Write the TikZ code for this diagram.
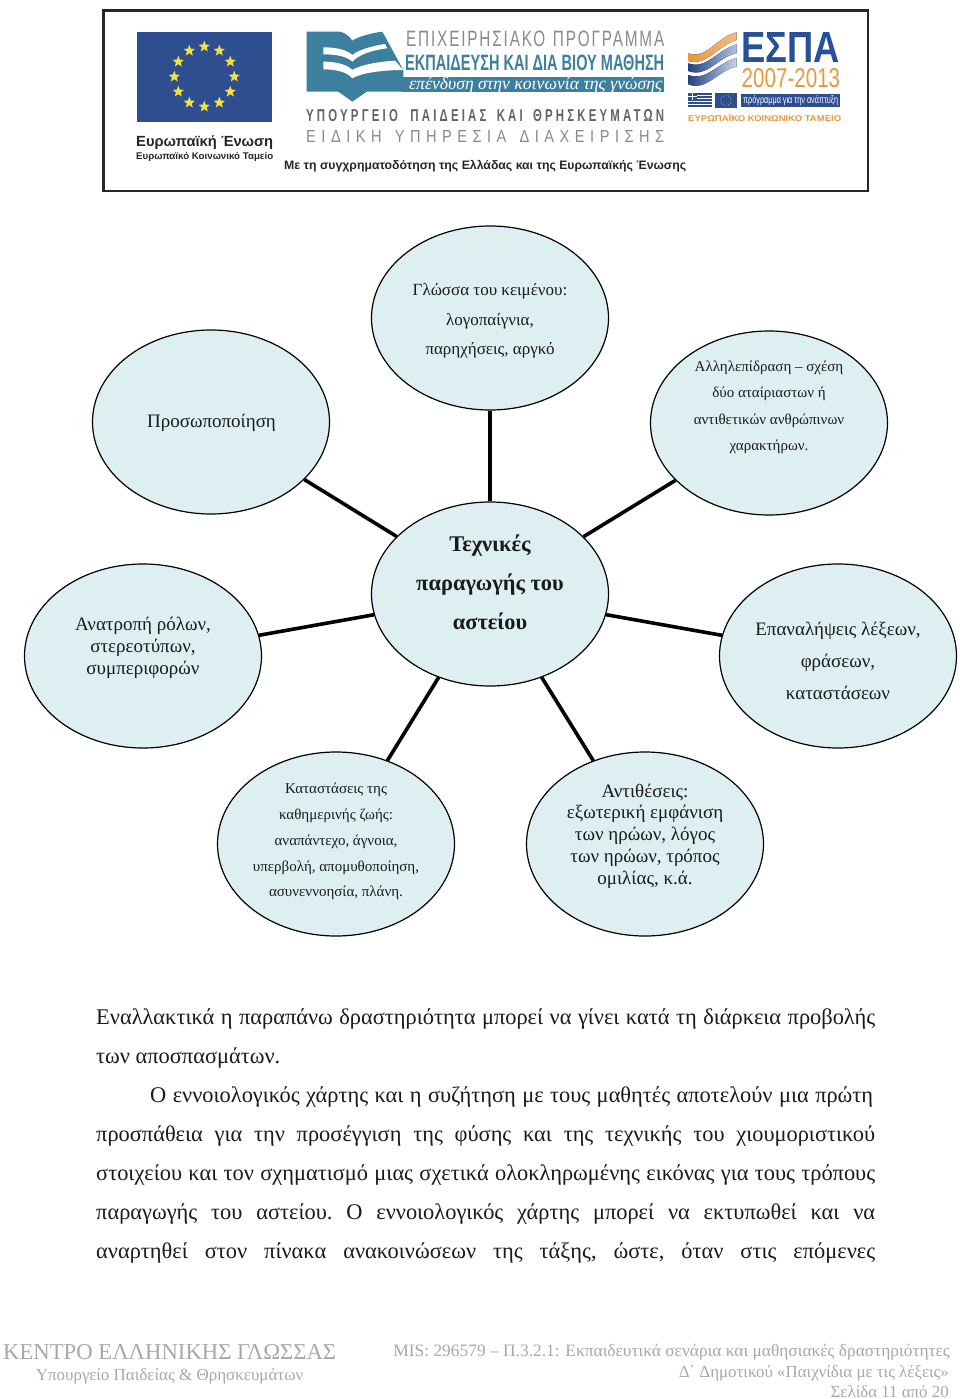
\documentclass[tikz,border=0pt]{standalone}
\usepackage{fontspec}
\usepackage{graphicx}
\setmainfont{Liberation Serif}
\newfontfamily\sansf{Liberation Sans}
\usetikzlibrary{shapes.geometric}
\definecolor{bub}{HTML}{DEEFF1}
\definecolor{eub}{HTML}{2F4E90}
\definecolor{teal}{HTML}{3D7F9E}
\definecolor{espab}{HTML}{27509B}
\definecolor{espao}{HTML}{E8983F}
\definecolor{ggrey}{HTML}{8A8A8A}
\definecolor{dgrey}{HTML}{5F6468}
\definecolor{ftgrey}{HTML}{A8A8A8}
\definecolor{ink}{HTML}{1A1A1A}
\definecolor{staryel}{HTML}{F4E33A}
\tikzset{
  bubble/.style={draw=black,line width=1.2pt,fill=bub,ellipse,minimum width=237pt,minimum height=184pt,inner sep=0pt},
  btext/.style={inner sep=0pt,align=center,text=ink},
  spoke/.style={line width=3.6pt,black},
  para/.style={anchor=base west,inner sep=0pt,text=ink,font=\fontsize{22.4}{24}\selectfont\frenchspacing},
  ft/.style={inner sep=0pt,text=ftgrey},
  lg/.style={inner sep=0pt,anchor=base west},
}
\newcommand{\fs}[2]{\fontsize{#1}{#2}\selectfont}
\newcommand{\fitbox}[3]{\resizebox{#1pt}{#2pt}{#3}}
\begin{document}
\begin{tikzpicture}[x=1pt,y=-1pt]
\useasboundingbox (0,0) rectangle (960,1399);
\fill[white] (0,0) rectangle (960,1399);
% banner
\draw[line width=2.6pt,draw=black!85] (103.5,10.5) rectangle (868,191);
\fill[eub] (137,32) rectangle (272,122);
\foreach \a in {0,30,...,330}
  \node[star,star points=5,star point ratio=2.4,fill=staryel,inner sep=0pt,minimum size=12pt] (s\a) at ([shift={(\a:30)}]204.3,76.7) {};
\node[lg,text=black!85] (eu1) at (136,147) {\resizebox{137pt}{!}{\sansf\bfseries\fs{16}{18}Ευρωπαϊκή Ένωση}};
\node[lg,text=black!85] (eu2) at (136,160) {\resizebox{137pt}{!}{\sansf\bfseries\fs{10}{12}Ευρωπαϊκό Κοινωνικό Ταμείο}};
% book logo (coordinates of a 3x crop)
\begin{scope}[shift={(295,20)},x=0.3333pt,y=-0.3333pt]
\fill[teal] (35,35) -- (135,35) .. controls (150,38) and (165,50) .. (172,62) .. controls (190,50) and (225,40) .. (262,35) -- (325,150) -- (325,172) -- (330,172) -- (330,215) -- (215,215) -- (172,245) -- (130,215) -- (35,215) -- cycle;
\fill[white] (85,82) .. controls (120,82) and (155,88) .. (172,105) .. controls (190,90) and (230,78) .. (270,72) -- (277,85) .. controls (230,90) and (190,105) .. (172,125) .. controls (155,108) and (120,103) .. (85,103) -- cycle;
\fill[white] (85,125) .. controls (120,125) and (155,132) .. (172,150) .. controls (195,135) and (250,125) .. (300,122) -- (325,150) .. controls (260,150) and (195,160) .. (172,175) .. controls (155,155) and (120,148) .. (85,148) -- cycle;
\end{scope}
\fill[teal] (402,77) rectangle (664,92);
\node[lg,text=ggrey] (p1) at (406,47) {\fitbox{258}{15.5}{\sansf\addfontfeature{LetterSpace=12}ΕΠΙΧΕΙΡΗΣΙΑΚΟ\hspace{0.5em}ΠΡΟΓΡΑΜΜΑ}};
\node[lg,text=teal] (p2) at (405,70.5) {\fitbox{259}{15.5}{\sansf\bfseries ΕΚΠΑΙΔΕΥΣΗ ΚΑΙ ΔΙΑ ΒΙΟΥ ΜΑΘΗΣΗ}};
\node[lg,text=white] (p3) at (409,90) {\resizebox{253pt}{!}{\rmfamily\itshape\fs{17.7}{20}επένδυση στην κοινωνία της γνώσης}};
\node[lg,text=dgrey] (p4) at (306,122) {\fitbox{358}{12}{\sansf\bfseries\addfontfeature{LetterSpace=28}ΥΠΟΥΡΓΕΙΟ\hspace{1.1em}ΠΑΙΔΕΙΑΣ\hspace{0.9em}ΚΑΙ\hspace{0.9em}ΘΡΗΣΚΕΥΜΑΤΩΝ}};
\node[lg,text=ggrey] (p5) at (306,143) {\fitbox{358}{12}{\sansf\addfontfeature{LetterSpace=38}ΕΙΔΙΚΗ\hspace{0.9em}ΥΠΗΡΕΣΙΑ\hspace{0.9em}ΔΙΑΧΕΙΡΙΣΗΣ}};
\node[lg,text=black!85] (p6) at (284,170) {\resizebox{402pt}{!}{\sansf\bfseries\fs{12.3}{14}Με τη συγχρηματοδότηση της Ελλάδας και της Ευρωπαϊκής Ένωσης}};
% ESPA (waves in coordinates of a 3x crop)
\begin{scope}[shift={(680,25)},x=0.3333pt,y=-0.3333pt]
\fill[left color=espao,right color=espao!65!white] (25,85) .. controls (80,105) and (110,35) .. (170,22) -- (170,45) .. controls (115,60) and (80,125) .. (25,108) -- cycle;
\fill[left color=espab!85!black,right color=espab!35!white] (25,115) .. controls (80,135) and (110,75) .. (170,58) -- (170,85) .. controls (115,95) and (80,160) .. (25,138) -- cycle;
\fill[left color=espab!85!black,right color=espab!25!white] (25,150) .. controls (80,170) and (110,115) .. (170,98) -- (170,125) .. controls (115,135) and (80,200) .. (25,178) -- cycle;
\end{scope}
\node[lg,text=espab] (e1) at (741.5,63) {\fitbox{98.5}{30}{\sansf\bfseries ΕΣΠΑ}};
\node[lg,text=espao] (e2) at (741.5,88) {\fitbox{98.5}{19}{\sansf 2007-2013}};
\fill[white] (688,93) rectangle (712,108);
\foreach \yy in {93,96,99,102,105} \fill[eub] (688,\yy) rectangle (712,\yy+1.6);
\fill[eub] (688,93) rectangle (697,100);
\fill[white] (688,95.8) rectangle (697,97.2);
\fill[white] (691.8,93) rectangle (693.2,100);
\fill[eub] (715,93) rectangle (737,108);
\foreach \a in {0,30,...,330}
  \fill[staryel] ([shift={(\a:5)}]726,100.5) circle (0.45pt);
\fill[eub] (741,94) rectangle (840,107);
\node[lg,text=white] (e3) at (743,103.5) {\fitbox{95}{8}{\sansf πρόγραμμα για την ανάπτυξη}};
\node[lg,text=espao] (e4) at (688,121.7) {\fitbox{153}{7.2}{\sansf\bfseries ΕΥΡΩΠΑΪΚΟ ΚΟΙΝΩΝΙΚΟ ΤΑΜΕΙΟ}};
% bubbles
\node[bubble] (c) at (490,594) {};
\node[bubble] (n1) at (490,318) {};
\node[bubble] (n2) at (769,423) {};
\node[bubble] (n3) at (211,422) {};
\node[bubble] (n4) at (143,656) {};
\node[bubble] (n5) at (838,656) {};
\node[bubble] (n6) at (336,844) {};
\node[bubble] (n7) at (645,844) {};
\foreach \n in {n1,n2,n3,n4,n5,n6,n7} \draw[spoke] (c) -- (\n);
\node[btext,font=\bfseries\fs{22.4}{39}] (tc) at (490,582) {Τεχνικές\\παραγωγής του\\αστείου};
\node[btext,font=\fs{17}{29.5}] (t1) at (490,321) {Γλώσσα του κειμένου:\\λογοπαίγνια,\\παρηχήσεις, αργκό};
\node[btext,font=\fs{15}{26.5}] (t2) at (769,407.5) {Αλληλεπίδραση – σχέση\\δύο αταίριαστων ή\\αντιθετικών ανθρώπινων\\χαρακτήρων.};
\node[btext,font=\fs{19}{22}] (t3) at (211.5,423) {Προσωποποίηση};
\node[btext,font=\fs{19}{22}] (t4) at (143,648) {Ανατροπή ρόλων,\\στερεοτύπων,\\συμπεριφορών};
\node[btext,font=\fs{19}{32.2}] (t5) at (838,661) {Επαναλήψεις λέξεων,\\φράσεων,\\καταστάσεων};
\node[btext,font=\fs{15}{25.8}] (t6) at (336,841.5) {Καταστάσεις της\\καθημερινής ζωής:\\αναπάντεχο, άγνοια,\\υπερβολή, απομυθοποίηση,\\ασυνεννοησία, πλάνη.};
\node[btext,font=\fs{19}{21.7}] (t7) at (645,836) {Αντιθέσεις:\\εξωτερική εμφάνιση\\των ηρώων, λόγος\\των ηρώων, τρόπος\\ομιλίας, κ.ά.};
% paragraph
\node[para] (l1) at (96,1024.5) {\makebox[779pt][s]{Εναλλακτικά η παραπάνω δραστηριότητα μπορεί να γίνει κατά τη διάρκεια προβολής}};
\node[para] (l2) at (96,1063.5) {των αποσπασμάτων.};
\node[para] (l3) at (150,1102.5) {\makebox[723pt][s]{Ο εννοιολογικός χάρτης και η συζήτηση με τους μαθητές αποτελούν μια πρώτη}};
\node[para] (l4) at (96,1141.5) {\makebox[779pt][s]{προσπάθεια για την προσέγγιση της φύσης και της τεχνικής του χιουμοριστικού}};
\node[para] (l5) at (96,1180.5) {\makebox[779pt][s]{στοιχείου και τον σχηματισμό μιας σχετικά ολοκληρωμένης εικόνας για τους τρόπους}};
\node[para] (l6) at (96,1219.5) {\makebox[779pt][s]{παραγωγής του αστείου. Ο εννοιολογικός χάρτης μπορεί να εκτυπωθεί και να}};
\node[para] (l7) at (96,1258.5) {\makebox[779pt][s]{αναρτηθεί στον πίνακα ανακοινώσεων της τάξης, ώστε, όταν στις επόμενες}};
% footer
\node[ft,anchor=base west,font=\fs{22.7}{24}] (f1) at (3,1359) {ΚΕΝΤΡΟ ΕΛΛΗΝΙΚΗΣ ΓΛΩΣΣΑΣ};
\node[ft,anchor=base,font=\fs{17}{20}] (f2) at (169.5,1380) {Υπουργείο Παιδείας \& Θρησκευμάτων};
\node[ft,anchor=base east,font=\fs{17.4}{20}] (f3) at (950,1356) {MIS: 296579 – Π.3.2.1: Εκπαιδευτικά σενάρια και μαθησιακές δραστηριότητες};
\node[ft,anchor=base east,font=\fs{16.9}{20}] (f4) at (949,1377) {Δ΄ Δημοτικού «Παιχνίδια με τις λέξεις»};
\node[ft,anchor=base east,font=\fs{16.9}{20}] (f5) at (949,1397) {Σελίδα 11 από 20};
\end{tikzpicture}
\end{document}
